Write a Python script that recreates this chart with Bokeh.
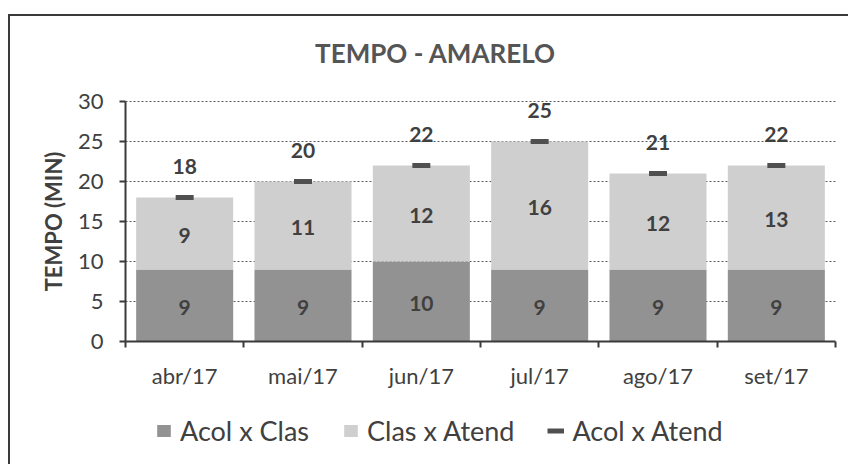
import numpy as np
from bokeh.plotting import figure
from bokeh.core.properties import value
from bokeh.models import (Range1d, FixedTicker, LabelSet, ColumnDataSource, Label,
                          Legend, LegendItem)
from bokeh.embed import file_html
from bokeh.resources import INLINE

months = ["abr/17", "mai/17", "jun/17", "jul/17", "ago/17", "set/17"]
acol_clas = [9, 9, 10, 9, 9, 9]
clas_atend = [9, 11, 12, 16, 12, 13]
acol_atend = [18, 20, 22, 25, 21, 22]
y_ticks = [0, 5, 10, 15, 20, 25, 30]
chart_title = "TEMPO - AMARELO"
y_label = "TEMPO (MIN)"
series_names = ["Acol x Clas", "Clas x Atend", "Acol x Atend"]

FONT = "Lato"
DARK = "#929292"
LIGHT = "#cfcfcf"
MARK = "#505050"
TXT = "#404040"
AX = "#3a3a3a"

# ---- layout (pixels inside the figure canvas) ----
W, H = 840, 450
F_LEFT, F_RIGHT, F_TOP, F_BOTTOM = 115, 825, 85, 325   # plot area within canvas
n = len(months)
ymax = y_ticks[-1]
px_x = (F_RIGHT - F_LEFT) / n
px_y = (F_BOTTOM - F_TOP) / ymax
x_rng = Range1d(-F_LEFT / px_x, n + (W - F_RIGHT) / px_x)
y_rng = Range1d(-(H - F_BOTTOM) / px_y, ymax + F_TOP / px_y)

xpos = np.arange(n) + 0.5
a = np.array(acol_clas, dtype=float)
c = np.array(clas_atend, dtype=float)
half_dash = 9 / px_x
src = ColumnDataSource(dict(
    x=xpos, a=a, ac=a + c, t=np.array(acol_atend, dtype=float),
    x0=xpos - half_dash, x1=xpos + half_dash,
    a_mid=a / 2, c_mid=a + c / 2,
    a_lbl=[str(v) for v in acol_clas],
    c_lbl=[str(v) for v in clas_atend],
    t_lbl=[str(v) for v in acol_atend],
))
grid_src = ColumnDataSource(dict(y=y_ticks[1:], x0=[0] * (len(y_ticks) - 1),
                                 x1=[n] * (len(y_ticks) - 1)))

p = figure(width=W, height=H, x_range=x_rng, y_range=y_rng, title=None,
           output_backend="svg", toolbar_location=None,
           min_border_left=0, min_border_right=0, min_border_top=0, min_border_bottom=0)
p.styles = {"border-top": "2px solid #3a3a3a", "border-left": "2px solid #3a3a3a",
            "margin-top": "14px", "margin-left": "8px"}
p.outline_line_color = None
p.background_fill_color = "white"
p.border_fill_color = "white"
p.xgrid.visible = False
p.ygrid.visible = False

# dotted gridlines inside the plot area
p.segment(x0="x0", x1="x1", y0="y", y1="y", source=grid_src,
          line_color="#5a5a5a", line_dash="2 2", line_width=1)

r1 = p.vbar(x="x", bottom=0, top="a", width=0.82, source=src,
            fill_color=DARK, line_color=None)
r2 = p.vbar(x="x", bottom="a", top="ac", width=0.82, source=src,
            fill_color=LIGHT, line_color=None)
r3 = p.segment(x0="x0", x1="x1", y0="t", y1="t", source=src,
               line_color=MARK, line_width=5)

# axes, pinned at data zero
xa = p.xaxis[0]
xa.fixed_location = 0
xa.bounds = (0, n)
xa.ticker = FixedTicker(ticks=list(xpos), minor_ticks=list(range(n + 1)))
xa.major_label_overrides = {float(xv): m for xv, m in zip(xpos, months)}
xa.major_tick_out = 0
xa.major_tick_in = 0
xa.minor_tick_out = 6
xa.minor_tick_in = 0
xa.minor_tick_line_color = AX
xa.minor_tick_line_width = 2
xa.major_label_standoff = 14

ya = p.yaxis[0]
ya.fixed_location = 0
ya.bounds = (0, ymax)
ya.ticker = FixedTicker(ticks=y_ticks)
ya.minor_tick_line_color = None
ya.major_tick_out = 6
ya.major_tick_in = 0
ya.major_label_standoff = 16
ya.axis_label = y_label
ya.axis_label_standoff = 8
ya.axis_label_text_font = FONT
ya.axis_label_text_font_size = "22px"
ya.axis_label_text_font_style = "bold"
ya.axis_label_text_color = TXT

for ax in (xa, ya):
    ax.axis_line_color = AX
    ax.axis_line_width = 2
    ax.major_tick_line_color = AX
    ax.major_tick_line_width = 2
    ax.major_label_text_font = FONT
    ax.major_label_text_font_size = "22px"
    ax.major_label_text_color = TXT

# data labels
for ycol, tcol in (("a_mid", "a_lbl"), ("c_mid", "c_lbl")):
    p.add_layout(LabelSet(x="x", y=ycol, text=tcol, source=src, text_align="center",
                          text_baseline="middle", y_offset=-2, text_font=value(FONT),
                          text_font_size="21px", text_font_style="bold", text_color=TXT))
p.add_layout(LabelSet(x="x", y="t", text="t_lbl", source=src, text_align="center",
                      text_baseline="middle", y_offset=31, text_font=value(FONT),
                      text_font_size="21px", text_font_style="bold", text_color=TXT))

# title
p.add_layout(Label(x=425, y=H - 36, x_units="screen", y_units="screen", text=chart_title,
                   text_align="center", text_baseline="middle", text_font=FONT,
                   text_font_size="26px", text_font_style="bold", text_color="#555555"))

legend = Legend(items=[LegendItem(label=series_names[0], renderers=[r1]),
                       LegendItem(label=series_names[1], renderers=[r2]),
                       LegendItem(label=series_names[2], renderers=[r3])],
                location=(145, 19), orientation="horizontal")
legend.label_text_font = FONT
legend.label_text_font_size = "27px"
legend.label_text_color = TXT
legend.glyph_width = 17
legend.glyph_height = 15
legend.spacing = 33
legend.padding = 0
legend.margin = 0
legend.label_standoff = 8
legend.border_line_color = None
legend.background_fill_alpha = 0
p.add_layout(legend)

open("out.html", "w").write(file_html(p, INLINE))
